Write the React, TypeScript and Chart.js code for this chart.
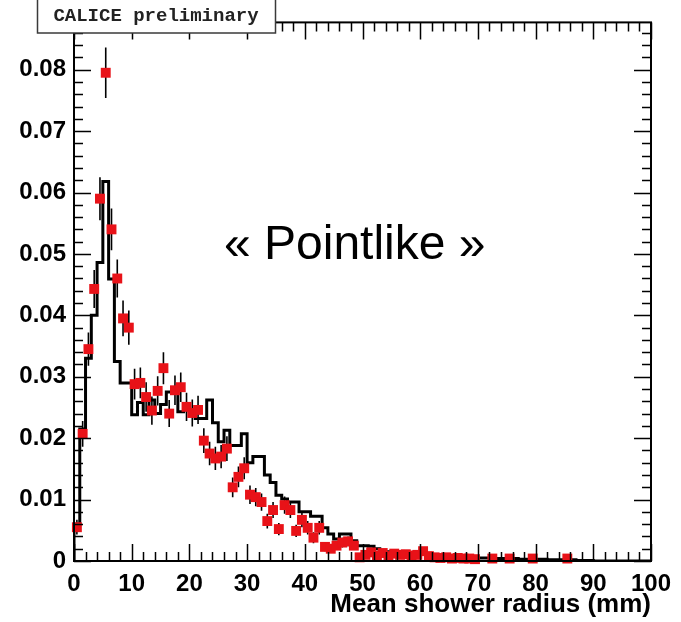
import React, { useEffect, useRef } from "react";
import { Chart, registerables } from "chart.js";

Chart.register(...registerables);

// ---- Data ----
// Simulation histogram (black step line), 1 mm bins from 0 to 100 mm
const histBinWidth = 1;
const histValues = [
  0.0060, 0.0215, 0.0330, 0.0400, 0.0486, 0.0618, 0.0459, 0.0325, 0.0290, 0.0290,
  0.0238, 0.0258, 0.0238, 0.0262, 0.0240, 0.0255, 0.0275, 0.0275, 0.0243, 0.0252,
  0.0243, 0.0232, 0.0232, 0.0262, 0.0225, 0.0194, 0.0213, 0.0188, 0.0188, 0.0207,
  0.0160, 0.0170, 0.0170, 0.0140, 0.0128, 0.0107, 0.0101, 0.0096, 0.0096, 0.0080,
  0.0080, 0.0073, 0.0073, 0.0054, 0.0044, 0.0036, 0.0044, 0.0044, 0.0033, 0.0025,
  0.0025, 0.0024, 0.0020, 0.0016, 0.0015, 0.0016, 0.0014, 0.0015, 0.0013, 0.0012,
  0.0013, 0.0011, 0.0010, 0.0009, 0.0009, 0.0008, 0.0007, 0.0007, 0.0006, 0.0006,
  0.0005, 0.0005, 0.0005, 0.0004, 0.0004, 0.0004, 0.0004, 0.0003, 0.0003, 0.0003,
  0.0003, 0.0003, 0.0002, 0.0002, 0.0002, 0.0002, 0.0002, 0.0001, 0.0001, 0.0001,
  0, 0, 0, 0, 0, 0, 0, 0, 0, 0,
];

// Data points (red squares with error bars)
const dataX = [
  0.5, 1.5, 2.5, 3.5, 4.5, 5.5, 6.5, 7.5, 8.5, 9.5,
  10.5, 11.5, 12.5, 13.5, 14.5, 15.5, 16.5, 17.5, 18.5, 19.5,
  20.5, 21.5, 22.5, 23.5, 24.5, 25.5, 26.5, 27.5, 28.5, 29.5,
  30.5, 31.5, 32.5, 33.5, 34.5, 35.5, 36.5, 37.5, 38.5, 39.5,
  40.5, 41.5, 42.5, 43.5, 44.5, 45.5, 46.5, 47.5, 48.5, 49.5,
  50.5, 51.5, 52.5, 53.5, 54.5, 55.5, 56.5, 57.5, 58.5, 59.5,
  60.5, 61.5, 62.5, 63.5, 64.5, 65.5, 66.5, 67.5, 68.5, 69.5,
  72.5, 75.5, 79.5, 85.5,
];
const dataY = [
  0.0055, 0.0207, 0.0345, 0.0443, 0.0590, 0.0795, 0.0540, 0.0460, 0.0395, 0.0380,
  0.0288, 0.0290, 0.0267, 0.0245, 0.0277, 0.0314, 0.0240, 0.0278, 0.0283, 0.0251,
  0.0241, 0.0246, 0.0196, 0.0175, 0.0167, 0.0170, 0.0183, 0.0120, 0.0137, 0.0151,
  0.0108, 0.0104, 0.0096, 0.0065, 0.0083, 0.0052, 0.0091, 0.0083, 0.0049, 0.0067,
  0.0054, 0.0038, 0.0054, 0.0023, 0.0020, 0.0025, 0.0030, 0.0032, 0.0025, 0.0006,
  0.0010, 0.0014, 0.0009, 0.0013, 0.0008, 0.0012, 0.0010, 0.0011, 0.0009, 0.0010,
  0.0016, 0.0008, 0.0006, 0.0005, 0.0006, 0.0004, 0.0005, 0.0004, 0.0004, 0.0003,
  0.0004, 0.0004, 0.0004, 0.0004,
];
const dataErr = [
  0.0012, 0.0021, 0.0027, 0.0031, 0.0035, 0.0041, 0.0034, 0.0031, 0.0029, 0.0028,
  0.0025, 0.0025, 0.0024, 0.0023, 0.0024, 0.0026, 0.0022, 0.0024, 0.0024, 0.0023,
  0.0022, 0.0023, 0.0020, 0.0019, 0.0019, 0.0019, 0.0020, 0.0016, 0.0017, 0.0018,
  0.0015, 0.0015, 0.0014, 0.0012, 0.0013, 0.0010, 0.0014, 0.0013, 0.0010, 0.0012,
  0.0011, 0.0009, 0.0011, 0.0007, 0.0006, 0.0007, 0.0008, 0.0008, 0.0007, 0.0004,
  0.0005, 0.0005, 0.0004, 0.0005, 0.0004, 0.0005, 0.0005, 0.0005, 0.0004, 0.0005,
  0.0006, 0.0004, 0.0004, 0.0003, 0.0004, 0.0003, 0.0003, 0.0003, 0.0003, 0.0003,
  0.0003, 0.0003, 0.0003, 0.0003,
];

const xTickValues = [0, 10, 20, 30, 40, 50, 60, 70, 80, 90, 100];
const yTickValues = [0, 0.01, 0.02, 0.03, 0.04, 0.05, 0.06, 0.07, 0.08];
const xMinorStep = 2;
const yMinorStep = 0.002;
const xRange = [0, 100];
const yRange = [0, 0.0877];

const xTitle = "Mean shower radius (mm)";
const boxLabel = "CALICE preliminary";
const annotation = "« Pointlike »";

const RED = "rgb(232,18,24)";
const SANS = "'Liberation Sans', Arial, Helvetica, sans-serif";

const errorBarPlugin = {
  id: "errorBars",
  beforeDatasetDraw(chart: any, args: any) {
    if (args.index !== 0) return;
    const { ctx } = chart;
    const xs = chart.scales.x;
    const ys = chart.scales.y;
    ctx.save();
    ctx.strokeStyle = "#000";
    ctx.lineWidth = 1.6;
    ctx.beginPath();
    dataX.forEach((xv, i) => {
      const px = xs.getPixelForValue(xv);
      const lo = Math.max(yRange[0], dataY[i] - dataErr[i]);
      const hi = dataY[i] + dataErr[i];
      ctx.moveTo(px, ys.getPixelForValue(lo));
      ctx.lineTo(px, ys.getPixelForValue(hi));
    });
    ctx.stroke();
    ctx.restore();
  },
};

const framePlugin = {
  id: "rootFrame",
  afterDatasetsDraw(chart: any) {
    const { ctx, chartArea } = chart;
    const { left, right, top, bottom } = chartArea;
    const xs = chart.scales.x;
    const ys = chart.scales.y;
    ctx.save();
    ctx.strokeStyle = "#000";
    ctx.lineWidth = 1.5;
    ctx.beginPath();
    const nx = Math.round((xRange[1] - xRange[0]) / xMinorStep);
    for (let i = 0; i <= nx; i++) {
      const v = xRange[0] + i * xMinorStep;
      const major = xTickValues.some((t) => Math.abs(t - v) < 1e-9);
      const len = major ? 17 : 9;
      const px = Math.round(xs.getPixelForValue(v)) + 0.5;
      ctx.moveTo(px, bottom);
      ctx.lineTo(px, bottom - len);
      ctx.moveTo(px, top);
      ctx.lineTo(px, top + len);
    }
    const ny = Math.floor((yRange[1] - yRange[0]) / yMinorStep + 1e-9);
    for (let i = 0; i <= ny; i++) {
      const v = yRange[0] + i * yMinorStep;
      const major = yTickValues.some((t) => Math.abs(t - v) < 1e-9);
      const len = major ? 17 : 9;
      const py = Math.round(ys.getPixelForValue(v)) + 0.5;
      ctx.moveTo(left, py);
      ctx.lineTo(left + len, py);
      ctx.moveTo(right, py);
      ctx.lineTo(right - len, py);
    }
    ctx.stroke();
    ctx.lineWidth = 2;
    ctx.strokeRect(left, top, right - left, bottom - top);
    ctx.restore();
  },
  afterDraw(chart: any) {
    const { ctx } = chart;
    ctx.save();
    ctx.fillStyle = "#fff";
    ctx.fillRect(37, -2, 239, 35);
    ctx.strokeStyle = "#3a3a3a";
    ctx.lineWidth = 1.5;
    ctx.strokeRect(37.5, -2, 238, 35);
    ctx.fillStyle = "#222";
    ctx.font = "bold 19px 'Liberation Mono', 'DejaVu Sans Mono', monospace";
    ctx.textAlign = "center";
    ctx.textBaseline = "middle";
    ctx.fillText(boxLabel, 156, 16);
    ctx.fillStyle = "#000";
    ctx.font = `48px ${SANS}`;
    ctx.textAlign = "left";
    ctx.textBaseline = "alphabetic";
    ctx.fillText(annotation, 224, 259);
    ctx.restore();
  },
};

export default function App() {
  const canvasRef = useRef<HTMLCanvasElement | null>(null);

  useEffect(() => {
    if (!canvasRef.current) return;
    const histData: { x: number; y: number }[] = [{ x: xRange[0], y: 0 }];
    histValues.forEach((v, i) => histData.push({ x: xRange[0] + i * histBinWidth, y: v }));
    histData.push({ x: xRange[0] + histValues.length * histBinWidth, y: histValues[histValues.length - 1] });

    const pointData = dataX.map((x, i) => ({ x, y: dataY[i] }));

    const chart = new Chart(canvasRef.current, {
      type: "scatter",
      data: {
        datasets: [
          {
            type: "scatter",
            data: pointData,
            pointStyle: "rect",
            pointRadius: 7,
            pointBackgroundColor: RED,
            pointBorderWidth: 0,
            borderWidth: 0,
            showLine: false,
            clip: false as any,
          },
          {
            type: "line",
            data: histData,
            stepped: "before",
            borderColor: "#000",
            borderWidth: 3,
            pointRadius: 0,
            fill: false,
            tension: 0,
          } as any,
        ],
      },
      options: {
        animation: false,
        responsive: false,
        events: [],
        layout: { padding: { left: 0, right: 30, top: 5, bottom: 0 } },
        plugins: { legend: { display: false }, tooltip: { enabled: false } },
        scales: {
          x: {
            type: "linear",
            min: xRange[0],
            max: xRange[1],
            grid: { display: false, drawTicks: false },
            border: { display: false },
            afterBuildTicks: (s: any) => {
              s.ticks = xTickValues.map((v) => ({ value: v }));
            },
            afterFit: (s: any) => {
              s.height = 61;
            },
            ticks: {
              padding: 9,
              color: "#000",
              font: { family: SANS, size: 24, weight: "bold" },
              maxRotation: 0,
              autoSkip: false,
              callback: (v: any) => String(v),
            },
            title: {
              display: true,
              text: xTitle,
              align: "end",
              color: "#000",
              font: { family: SANS, size: 26, weight: "bold", lineHeight: 1.1 },
              padding: { top: 0, bottom: 3 },
            },
          },
          y: {
            type: "linear",
            min: yRange[0],
            max: yRange[1],
            grid: { display: false, drawTicks: false },
            border: { display: false },
            afterBuildTicks: (s: any) => {
              s.ticks = yTickValues.map((v) => ({ value: v }));
            },
            afterFit: (s: any) => {
              s.width = 74;
            },
            ticks: {
              padding: 8,
              color: "#000",
              font: { family: SANS, size: 24, weight: "bold" },
              autoSkip: false,
              callback: (v: any) => (v === 0 ? "0" : Number(v).toFixed(2)),
            },
          },
        },
      },
      plugins: [errorBarPlugin, framePlugin],
    });
    return () => chart.destroy();
  }, []);

  return (
    <div style={{ position: "absolute", left: 0, top: 0, width: 681, height: 622, background: "#fff" }}>
      <canvas ref={canvasRef} width={681} height={622} style={{ display: "block" }} />
    </div>
  );
}
